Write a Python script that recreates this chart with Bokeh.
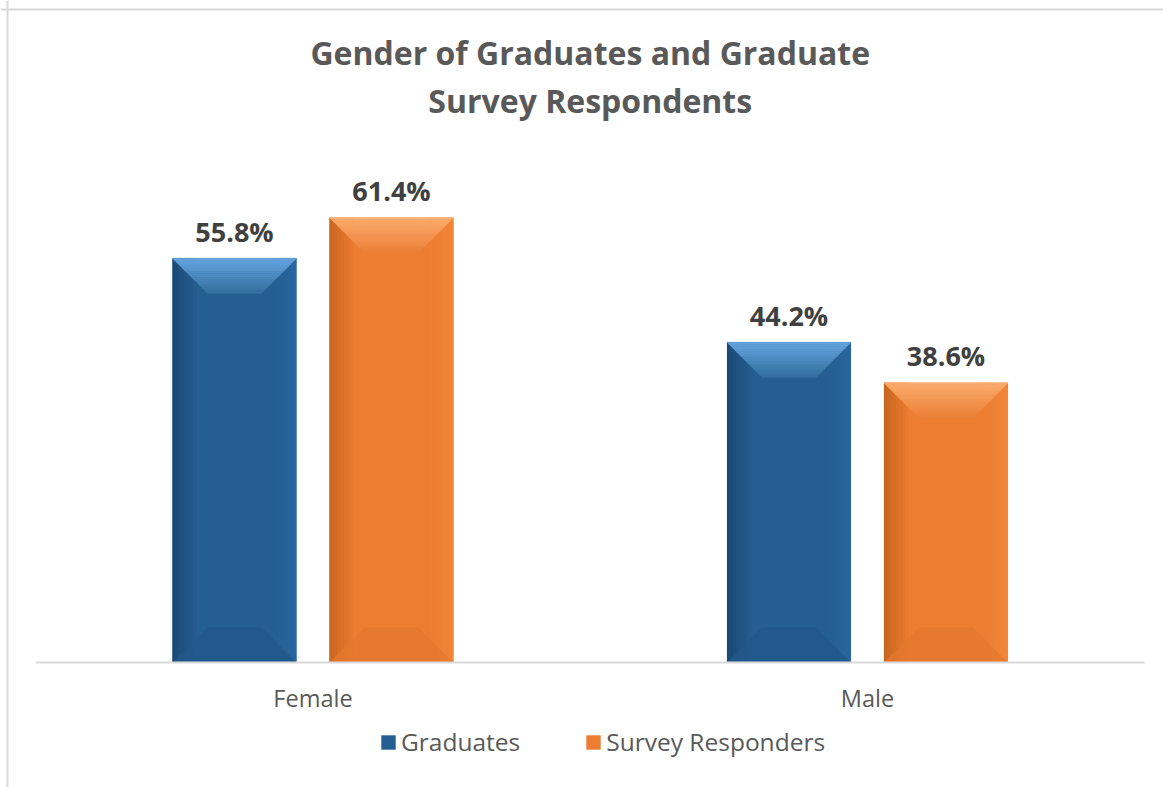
import numpy as np
from bokeh.plotting import figure
from bokeh.models import Range1d, Legend, LegendItem, Label, Span
from bokeh.core.properties import value
from bokeh.embed import file_html
from bokeh.resources import INLINE

# ---- data ----
categories = ["Female", "Male"]
series_names = ["Graduates", "Survey Responders"]
graduates = [55.8, 44.2]
responders = [61.4, 38.6]
title_lines = ["Gender of Graduates and Graduate", "Survey Respondents"]

# ---- layout constants (pixels) ----
W, H = 1163, 787
BASE_PX = 662                     # baseline from canvas top
FIRST_CAT_PX = 312.5              # centre of first category
PX_X = 554.5                      # px per category
PX_Y = 7.245                      # px per percent

x_lo = 0.5 - FIRST_CAT_PX / PX_X
x_hi = x_lo + W / PX_X
y_top = BASE_PX / PX_Y
y_bot = -(H - BASE_PX) / PX_Y


def px_to_x(px):
    return x_lo + px / PX_X


def px_to_y(py):
    return (BASE_PX - py) / PX_Y


BAR_W = 124 / PX_X
OFFSET = 78.5 / PX_X
BEV_X = 35 / PX_X
BEV_Y = 35 / PX_Y

FONT = "Open Sans"

styles = {
    "Graduates": dict(main="#255E91", edge="#1B4A76", right="#2A67A1",
                      top1="#66A6E2", top2="#34709F", bottom="#22588B"),
    "Survey Responders": dict(main="#ED7D31", edge="#C9661F", right="#F2863A",
                              top1="#FCAE70", top2="#EC8038", bottom="#E4782D"),
}


def mix(c1, c2, t):
    a = np.array([int(c1[i:i + 2], 16) for i in (1, 3, 5)], float)
    b = np.array([int(c2[i:i + 2], 16) for i in (1, 3, 5)], float)
    c = a + (b - a) * t
    return "#%02x%02x%02x" % tuple(int(round(v)) for v in c)


p = figure(width=W, height=H, x_range=Range1d(x_lo, x_hi),
           y_range=Range1d(y_bot, y_top), output_backend="svg",
           toolbar_location=None, y_axis_location=None, x_axis_location=None,
           min_border_left=0, min_border_right=0,
           min_border_top=0, min_border_bottom=0)
p.outline_line_color = None
p.xgrid.visible = False
p.ygrid.visible = False
p.background_fill_color = "white"
p.border_fill_color = "white"

# chart-area border (left and top edges visible)
p.add_layout(Span(location=px_to_x(7), dimension="height", line_color="#D9D9D9", line_width=2))
p.add_layout(Span(location=px_to_y(9), dimension="width", line_color="#D9D9D9", line_width=2))

cat_x = np.arange(len(categories)) + 0.5
legend_items = []

for name, vals, sign in ((series_names[0], graduates, -1), (series_names[1], responders, 1)):
    st = styles[name]
    xs_c = cat_x + sign * OFFSET
    r = p.vbar(x=xs_c, top=vals, width=BAR_W, bottom=0,
               fill_color=st["main"], line_color=None)
    legend_items.append(LegendItem(label=name, renderers=[r]))

    # side shading strips (left darker, right slightly lighter)
    nstrip = 8
    sw = 3 / PX_X
    for k in range(nstrip):
        t = k / nstrip
        p.vbar(x=xs_c - BAR_W / 2 + sw * (k + 0.5), top=vals, width=sw * 1.05,
               fill_color=mix(st["edge"], st["main"], t), line_color=None)
        p.vbar(x=xs_c + BAR_W / 2 - sw * (k + 0.5), top=vals, width=sw * 1.05,
               fill_color=mix(st["right"], st["main"], t), line_color=None, fill_alpha=0.8)

    # top bevel (gradient bands)
    nb = 18
    bxs, bys, bcols = [], [], []
    for xc, v in zip(xs_c, vals):
        l, rr = xc - BAR_W / 2, xc + BAR_W / 2
        for k in range(nb):
            t0, t1 = k / nb, (k + 1) / nb
            bxs.append([l + BEV_X * t0, rr - BEV_X * t0, rr - BEV_X * t1, l + BEV_X * t1])
            bys.append([v - BEV_Y * t0, v - BEV_Y * t0, v - BEV_Y * t1, v - BEV_Y * t1])
            bcols.append(mix(st["top1"], st["top2"], (t0 + t1) / 2))
    p.patches(bxs, bys, fill_color=bcols, line_color=bcols, line_width=0.6)

    # bottom bevel
    dxs, dys = [], []
    for xc, v in zip(xs_c, vals):
        l, rr = xc - BAR_W / 2, xc + BAR_W / 2
        dxs.append([l, rr, rr - BEV_X, l + BEV_X])
        dys.append([0, 0, BEV_Y, BEV_Y])
    p.patches(dxs, dys, fill_color=st["bottom"], line_color=None, fill_alpha=0.8)

    # value labels
    p.text(x=xs_c, y=vals, text=[f"{v:.1f}%" for v in vals],
           text_align="center", text_baseline="middle", y_offset=-27,
           text_font=value(FONT), text_font_style="bold",
           text_font_size="27px", text_color="#404040")

# category axis line
p.segment(x0=[0], y0=[0], x1=[len(categories)], y1=[0], line_color="#D9D9D9", line_width=2)

# category labels
p.text(x=cat_x, y=[0] * len(categories), text=categories,
       text_align="center", text_baseline="middle", y_offset=35,
       text_font=value(FONT), text_font_size="23.5px", text_color="#595959")

# title
for i, line in enumerate(title_lines):
    p.add_layout(Label(x=len(categories) / 2, y=px_to_y(52 + 48 * i),
                       text=line, text_align="center", text_baseline="middle",
                       text_font=FONT, text_font_style="bold",
                       text_font_size="32px", text_color="#595959"))

legend = Legend(items=legend_items, orientation="horizontal", location=(379, 29),
                label_text_font=FONT, label_text_font_size="24.5px",
                label_text_color="#595959", glyph_width=18, glyph_height=18,
                label_height=24, spacing=64, label_standoff=4, border_line_color=None,
                background_fill_alpha=0, margin=0, padding=4)
p.add_layout(legend, "center")

open("out.html", "w").write(file_html(p, INLINE))
